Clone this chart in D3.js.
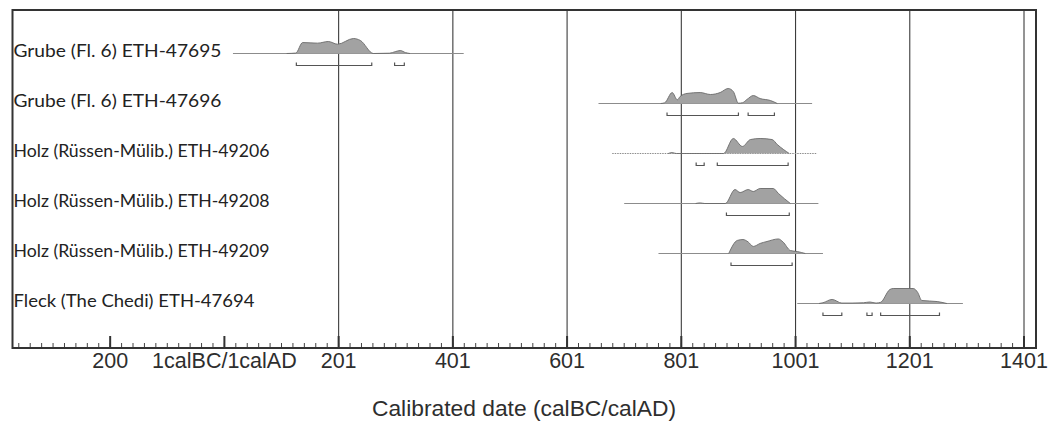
<!DOCTYPE html>
<html>
<head>
<meta charset="utf-8">
<script src="https://cdn.jsdelivr.net/npm/d3@7/dist/d3.min.js"></script>
<style>
  html, body { margin: 0; padding: 0; background: #fff; }
  svg { display: block; }
</style>
</head>
<body>
<svg id="chart" width="1061" height="423"></svg>
<script>
// ---------- DATA ----------
const sampleNames = [
  "Grube (Fl. 6) ETH-47695",
  "Grube (Fl. 6) ETH-47696",
  "Holz (Rüssen-Mülib.) ETH-49206",
  "Holz (Rüssen-Mülib.) ETH-49208",
  "Holz (Rüssen-Mülib.) ETH-49209",
  "Fleck (The Chedi) ETH-47694"
];

// extent of each probability baseline (calendar years, AD positive)
const baselineRanges = [
  [16, 420], [656, 1030], [680, 1039], [701, 1041], [761, 1049], [1004, 1294]
];

// relative probability distributions: [year, relative density]
const dist47695 = [[110,0],[126,0.03],[138,0.73],[164,0.69],[183,0.8],[199,0.62],[227,1.0],[239,0.87],[262,0],[290,0.02],[300,0.12],[309,0.2],[318,0.06],[326,0]];
const dist47696 = [[765,0],[772,0.05],[785,0.73],[794,0.25],[799,0.47],[811,0.67],[834,0.73],[852,0.6],[869,0.73],[883,1.0],[892,0.8],[901,0.02],[908,0.05],[916,0.27],[927,0.53],[939,0.33],[957,0.2],[969,0]];
const dist49206 = [[778,0],[785,0.06],[792,0],[875,0],[892,1.0],[908,0.47],[922,0.93],[939,1.0],[960,0.93],[969,0.6],[990,0]];
const dist49208 = [[826,0],[834,0.04],[842,0],[878,0],[895,0.93],[904,0.73],[918,0.93],[927,0.8],[939,1.0],[962,1.0],[971,0.67],[992,0]];
const dist49209 = [[884,0],[899,0.87],[909,0.93],[918,0.77],[927,0.47],[939,0.67],[951,0.8],[971,0.97],[979,0.77],[992,0.2],[1004,0.13],[1018,0]];
const dist47694 = [[1042,0],[1049,0.05],[1065,0.27],[1082,0.03],[1100,0.03],[1120,0.05],[1131,0.1],[1142,0.03],[1150,0.08],[1166,0.93],[1172,1.0],[1207,1.0],[1215,0.73],[1222,0.2],[1249,0.13],[1266,0]];
const distributions = [dist47695, dist47696, dist49206, dist49208, dist49209, dist47694];

// highest posterior density ranges (brackets)
const hpdRanges = [
  [[127,259],[299,316]],
  [[776,901],[918,964]],
  [[827,841],[864,988]],
  [[880,990]],
  [[888,995]],
  [[1049,1082],[1126,1135],[1150,1253]]
];

// axis ticks
const majorTickValues = [-199, 1, 201, 401, 601, 801, 1001, 1201, 1401];
const majorTickLabels = ["200", "1calBC/1calAD", "201", "401", "601", "801", "1001", "1201", "1401"];
const gridValues = [201, 401, 601, 801, 1001, 1201, 1401];
const axisTitle = "Calibrated date (calBC/calAD)";

// ---------- LAYOUT ----------
const svg = d3.select("#chart");
const frameLeft = 12.5, frameRight = 1036, frameTop = 10, frameBottom = 348;
const domainStart = -370, domainEnd = 1422;
const labelTextWidths = [208, 208, 256, 256, 256, 241];
const x = d3.scaleLinear().domain([domainStart, domainEnd]).range([frameLeft, frameRight]);
const row = d3.scaleLinear().domain([0, 5]).range([53.5, 303.5]);
const h = d3.scaleLinear().domain([0, 1]).range([0, 15]);

// gridlines
svg.append("g").selectAll("line").data(gridValues).join("line")
  .attr("x1", d => x(d)).attr("x2", d => x(d))
  .attr("y1", frameTop).attr("y2", frameBottom)
  .attr("stroke", "#3c3c3c").attr("stroke-width", 1.1);

// minor ticks every 20 years
const minorTicks = d3.range(-359, domainEnd, 20).filter(v => x(v) > frameLeft + 2 && x(v) < frameRight - 2);
svg.append("g").selectAll("line").data(minorTicks).join("line")
  .attr("x1", d => x(d)).attr("x2", d => x(d))
  .attr("y1", frameBottom - 5).attr("y2", frameBottom)
  .attr("stroke", "#444").attr("stroke-width", 1);

// major ticks
svg.append("g").selectAll("line").data(majorTickValues).join("line")
  .attr("x1", d => x(d)).attr("x2", d => x(d))
  .attr("y1", frameBottom - 12).attr("y2", frameBottom)
  .attr("stroke", "#333").attr("stroke-width", 2);

// tick labels
svg.append("g").selectAll("text").data(majorTickValues).join("text")
  .attr("x", d => x(d)).attr("y", 368)
  .attr("text-anchor", "middle")
  .attr("font-family", "Liberation Sans, Arial, sans-serif")
  .attr("font-size", "21.5px")
  .attr("fill", "#2e2e2e")
  .text((d, i) => majorTickLabels[i]);

// axis title
svg.append("text")
  .attr("x", 524).attr("y", 416)
  .attr("text-anchor", "middle")
  .attr("font-family", "Liberation Sans, Arial, sans-serif")
  .attr("font-size", "22.8px")
  .attr("fill", "#2e2e2e")
  .text(axisTitle);

// rows
const area = d3.area().curve(d3.curveMonotoneX).x(d => x(d[0]));
const topLine = d3.line().curve(d3.curveMonotoneX).x(d => x(d[0]));

sampleNames.forEach((name, i) => {
  const y0 = row(i);
  const g = svg.append("g");
  // label
  g.append("text")
    .attr("x", 13.5).attr("y", y0 + 3)
    .attr("font-family", "Lato, 'Noto Sans', sans-serif")
    .attr("font-size", "18px")
    .attr("fill", "#222")
    .attr("textLength", labelTextWidths[i])
    .attr("lengthAdjust", "spacingAndGlyphs")
    .text(name);
  // baseline
  const br = baselineRanges[i];
  g.append("line")
    .attr("x1", x(br[0])).attr("x2", x(br[1]))
    .attr("y1", y0).attr("y2", y0)
    .attr("stroke", "#8c8c8c").attr("stroke-width", 1)
    .attr("stroke-dasharray", i === 2 ? "1.5,1" : null);
  // distribution
  const dd = distributions[i];
  g.append("path")
    .datum(dd)
    .attr("d", area.y0(y0).y1(d => y0 - h(d[1])))
    .attr("fill", "#a2a2a2");
  g.append("path")
    .datum(dd)
    .attr("d", topLine.y(d => y0 - h(d[1])))
    .attr("fill", "none").attr("stroke", "#6a6a6a").attr("stroke-width", 0.9);
  // hpd brackets
  const yb = y0 + 12;
  hpdRanges[i].forEach(r => {
    g.append("path")
      .attr("d", `M${x(r[0])},${yb - 3}V${yb}H${x(r[1])}V${yb - 3}`)
      .attr("fill", "none").attr("stroke", "#555").attr("stroke-width", 1.2);
  });
});

// frame
svg.append("rect")
  .attr("x", frameLeft).attr("y", frameTop)
  .attr("width", frameRight - frameLeft).attr("height", frameBottom - frameTop)
  .attr("fill", "none").attr("stroke", "#333").attr("stroke-width", 2);
</script>
</body>
</html>
